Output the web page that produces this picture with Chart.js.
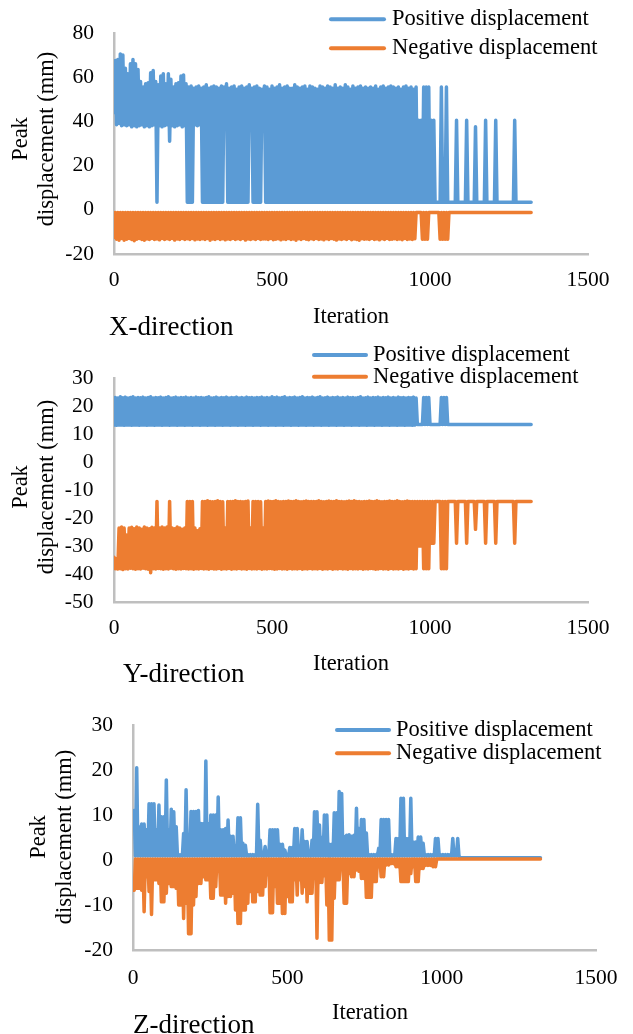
<!DOCTYPE html>
<html><head><meta charset="utf-8">
<script src="https://cdn.jsdelivr.net/npm/chart.js@4.4.1/dist/chart.umd.min.js"></script>
<style>
html,body{margin:0;padding:0;background:#fff;}
#wrap{position:relative;width:633px;height:1034px;overflow:hidden;background:#fff;}
canvas{position:absolute;left:0;}
</style></head><body>
<div id="wrap">
<canvas id="cx" width="633" height="345" style="top:0px"></canvas>
<canvas id="cy" width="633" height="345" style="top:345px"></canvas>
<canvas id="cz" width="633" height="344" style="top:690px"></canvas>
</div>
<script>
// ---------- shared labels / ticks ----------
const seriesLabels = ['Positive displacement', 'Negative displacement'];
const panelCaptions = ['X-direction', 'Y-direction', 'Z-direction'];
const yTitleLines = ['Peak', 'displacement (mm)'];
const xTitle = 'Iteration';
const iterationTicks = [0, 500, 1000, 1500];
const xDirTicks = [-20, 0, 20, 40, 60, 80];
const yDirTicks = [-50, -40, -30, -20, -10, 0, 10, 20, 30];
const zDirTicks = [-20, -10, 0, 10, 20, 30];

// ---------- X & Y panels: iteration samples ----------
const iterXY = [
0,4,8,12,16,20,24,28,32,36,40,44,48,52,56,60,64,68,72,76,
80,84,88,92,96,100,104,108,112,116,120,124,128,132,136,140,144,148,152,156,
160,164,168,172,176,180,184,188,192,196,200,204,208,212,216,220,224,228,232,236,
240,244,248,252,256,260,264,268,272,276,280,284,288,292,296,300,304,308,312,316,
320,324,328,332,336,340,344,348,352,356,360,364,368,372,376,380,384,388,392,396,
400,404,408,412,416,420,424,428,432,436,440,444,448,452,456,460,464,468,472,476,
480,484,488,492,496,500,504,508,512,516,520,524,528,532,536,540,544,548,552,556,
560,564,568,572,576,580,584,588,592,596,600,604,608,612,616,620,624,628,632,636,
640,644,648,652,656,660,664,668,672,676,680,684,688,692,696,700,704,708,712,716,
720,724,728,732,736,740,744,748,752,756,760,764,768,772,776,780,784,788,792,796,
800,804,808,812,816,820,824,828,832,836,840,844,848,852,856,860,864,868,872,876,
880,884,888,892,896,900,904,908,912,916,920,924,928,932,936,940,944,948,952,956,
960,964,968,972,976,980,984,988,992,996,1000,1004,1008,1012,1016,1020,1024,1028,1032,1036,
1040,1044,1048,1052,1056,1060,1064,1068,1072,1076,1080,1084,1088,1092,1096,1100,1104,1108,1112,1116,
1120,1124,1128,1132,1136,1140,1144,1148,1152,1156,1160,1164,1168,1172,1176,1180,1184,1188,1192,1196,
1200,1204,1208,1212,1216,1220,1224,1228,1232,1236,1240,1244,1248,1252,1256,1260,1264,1268,1272,1276,
1280,1284,1288,1292,1296,1300,1304,1308,1312,1316,1320];

const xPositive = [
44,67.5,38.5,68,39,70.5,38,70,38.5,64,38,61.5,38.5,66,37.5,68,38,66,37.5,63.5,
38,58,38.5,55.5,37.5,57,38,57.5,37.5,62,38,63,38.5,58,3.4,56.5,38,60.5,37.5,61.5,
38,57,38.5,61.5,31,59,38,55.5,37.5,57,38,57.5,38.5,60.5,37.5,61,38,57,3.4,55.5,
3.4,56,3.4,55,38.5,55.5,38,56,38.5,55,3.4,55.5,3.4,56.5,3.4,55,3.4,55.5,3.4,56,
3.4,55.5,3.4,55,3.4,56,3.4,55.5,38.5,57,3.4,55,3.4,55.5,3.4,56,3.4,54.5,3.4,55.5,
3.4,56,3.4,55,3.4,55.5,3.4,56.5,38.5,55,3.4,55.5,3.4,56,3.4,55,3.4,54.5,38.5,56,
3.4,55.5,3.4,54.5,3.4,56,3.4,55,3.4,55.5,3.4,56.5,3.4,55,3.4,55.5,3.4,56,3.4,55,
3.4,55,3.4,56.5,3.4,55.5,3.4,55,3.4,55.5,3.4,56,3.4,54.5,3.4,56,3.4,55.5,3.4,55,
3.4,54.5,3.4,56,3.4,55.5,3.4,55,3.4,56,3.4,55.5,3.4,55,3.4,56.5,3.4,55,3.4,55.5,
3.4,55,3.4,56.5,3.4,55.5,3.4,54.5,3.4,56,3.4,55,3.4,55.5,3.4,56,3.4,55,3.4,55.5,
3.4,55,3.4,55.5,3.4,55,3.4,56,3.4,54.5,3.4,55.5,3.4,56,3.4,55,3.4,55.5,3.4,56,
3.4,55.5,3.4,55,3.4,55.5,3.4,54.5,3.4,55.5,3.4,56,3.4,55,3.4,55.5,3.4,54.5,3.4,55.5,
3.4,40.5,3.4,40.5,3.4,55.5,3.4,55.5,3.4,55.5,3.4,40.5,3.4,40.5,3.4,3.4,3.4,3.4,3.4,55.5,
3.4,3.4,3.4,55.5,3.4,3.4,3.4,3.4,3.4,3.4,3.4,40.5,3.4,3.4,3.4,3.4,3.4,3.4,3.4,40.5,
3.4,3.4,3.4,3.4,3.4,3.4,37.5,3.4,3.4,3.4,3.4,3.4,3.4,3.4,40.5,3.4,3.4,3.4,3.4,3.4,
3.4,3.4,40.5,3.4,3.4,3.4,3.4,3.4,3.4,3.4,3.4,3.4,3.4,3.4,3.4,3.4,3.4,40.5,3.4,3.4,
3.4,3.4,3.4,3.4,3.4,3.4,3.4,3.4,3.4,3.4,3.4];

const xNegative = [
-12.5,-1.2,-13.3,-1.2,-13.8,-1.2,-13,-1.2,-13.8,-1.2,-13.3,-1.2,-13,-1.2,-13.4,-1.2,-14,-1.2,-13.3,-1.2,
-13,-1.2,-13.4,-1.2,-13.8,-1.2,-13.2,-1.2,-13.4,-1.2,-13,-1.2,-13.4,-1.2,-13.2,-1.2,-13.6,-1.2,-13,-1.2,
-13.4,-1.2,-13.1,-1.2,-13.4,-1.2,-13,-1.2,-13.7,-1.2,-13.2,-1.2,-13.4,-1.2,-13,-1.2,-13.4,-1.2,-13.1,-1.2,
-13.4,-1.2,-13,-1.2,-13.6,-1.2,-13.2,-1.2,-13.4,-1.2,-13.1,-1.2,-13.4,-1.2,-13,-1.2,-13.8,-1.2,-13.2,-1.2,
-13.4,-1.2,-13,-1.2,-13.4,-1.2,-13.1,-1.2,-13.6,-1.2,-13.2,-1.2,-13.4,-1.2,-13,-1.2,-13.4,-1.2,-13.1,-1.2,
-13.4,-1.2,-13,-1.2,-13.7,-1.2,-13.2,-1.2,-13.4,-1.2,-13.1,-1.2,-13.4,-1.2,-13,-1.2,-13.4,-1.2,-13.2,-1.2,
-13.2,-1.2,-13.4,-1.2,-13,-1.2,-13.5,-1.2,-13.3,-1.2,-13.1,-1.2,-13.6,-1.2,-13.2,-1.2,-13.4,-1.2,-13,-1.2,
-13.4,-1.2,-13.2,-1.2,-13.8,-1.2,-13.1,-1.2,-13.4,-1.2,-13,-1.2,-13.3,-1.2,-13.5,-1.2,-13.1,-1.2,-13.4,-1.2,
-13,-1.2,-13.4,-1.2,-13.2,-1.2,-13.6,-1.2,-13.1,-1.2,-13.4,-1.2,-13,-1.2,-13.3,-1.2,-13.7,-1.2,-13.2,-1.2,
-13.4,-1.2,-13.1,-1.2,-13.4,-1.2,-13,-1.2,-13.5,-1.2,-13.2,-1.2,-13.4,-1.2,-13.8,-1.2,-13.1,-1.2,-13.3,-1.2,
-13.2,-1.2,-13.4,-1.2,-13,-1.2,-13.4,-1.2,-13.2,-1.2,-13.6,-1.2,-13.1,-1.2,-13.4,-1.2,-13,-1.2,-13.4,-1.2,
-13.3,-1.2,-13.1,-1.2,-13.4,-1.2,-13.2,-1.2,-13.5,-1.2,-13,-1.2,-13.4,-1.2,-13.2,-1.2,-13.4,-1.2,-13.1,-1.2,
-1.2,-1.2,-1.2,-1.2,-13.3,-1.2,-13.3,-1.2,-13.3,-1.2,-1.2,-1.2,-1.2,-1.2,-1.2,-1.2,-1.2,-1.2,-13.3,-1.2,
-13.3,-1.2,-13.3,-1.2,-13.3,-1.2,-1.2,-1.2,-1.2,-1.2,-1.2,-1.2,-1.2,-1.2,-1.2,-1.2,-1.2,-1.2,-1.2,-1.2,
-1.2,-1.2,-1.2,-1.2,-1.2,-1.2,-1.2,-1.2,-1.2,-1.2,-1.2,-1.2,-1.2,-1.2,-1.2,-1.2,-1.2,-1.2,-1.2,-1.2,
-1.2,-1.2,-1.2,-1.2,-1.2,-1.2,-1.2,-1.2,-1.2,-1.2,-1.2,-1.2,-1.2,-1.2,-1.2,-1.2,-1.2,-1.2,-1.2,-1.2,
-1.2,-1.2,-1.2,-1.2,-1.2,-1.2,-1.2,-1.2,-1.2,-1.2,-1.2];

const yPositive = [
13.3,23.2,13.2,23,13.3,23.4,13.3,23.1,13.2,23.3,13.3,23,13.3,23.2,13.2,23.4,13.3,23,13.3,23.2,
13.2,23.1,13.3,23.3,13.3,23,13.2,23.2,13.3,23.4,13.3,23,13.2,23.2,13.3,23.1,13.3,23.3,13.2,23,
13.3,23.2,13.3,23.4,13.2,23,13.3,23.1,13.3,23.3,13.2,23,13.3,23.2,13.3,23.1,13.2,23.3,13.3,23,
13.3,23.2,13.2,23,13.3,23.3,13.3,23.1,13.2,23.2,13.3,23,13.3,23.2,13.2,23.4,13.3,23,13.3,23.1,
13.2,23.3,13.3,23,13.3,23.2,13.2,23.1,13.3,23.3,13.3,23,13.2,23.2,13.3,23.1,13.3,23.3,13.2,23,
13.3,23.2,13.3,23,13.2,23.3,13.3,23.1,13.3,23.2,13.2,23,13.3,23.2,13.3,23.1,13.2,23.3,13.3,23,
13.3,23.2,13.2,23,13.3,23.4,13.3,23.1,13.2,23.3,13.3,23,13.3,23.2,13.2,23.4,13.3,23,13.3,23.2,
13.2,23.1,13.3,23.3,13.3,23,13.2,23.2,13.3,23.4,13.3,23,13.2,23.2,13.3,23.1,13.3,23.3,13.2,23,
13.3,23.2,13.3,23.4,13.2,23,13.3,23.1,13.3,23.3,13.2,23,13.3,23.2,13.3,23.1,13.2,23.3,13.3,23,
13.3,23.2,13.2,23,13.3,23.3,13.3,23.1,13.2,23.2,13.3,23,13.3,23.2,13.2,23.4,13.3,23,13.3,23.1,
13.2,23.3,13.3,23,13.3,23.2,13.2,23.1,13.3,23.3,13.3,23,13.2,23.2,13.3,23.1,13.3,23.3,13.2,23,
13.3,23.2,13.3,23,13.2,23.3,13.3,23.1,13.3,23.2,13.2,23,13.3,23.2,13.3,23.1,13.2,23.3,13.3,23,
13.5,13.5,13.5,13.5,13.5,23.2,13.5,23.2,13.5,23.2,13.5,13.5,13.5,13.5,13.5,13.5,13.5,13.5,13.5,23.2,
13.5,23.2,13.5,23.2,13.5,13.5,13.5,13.5,13.5,13.5,13.5,13.5,13.5,13.5,13.5,13.5,13.5,13.5,13.5,13.5,
13.5,13.5,13.5,13.5,13.5,13.5,13.5,13.5,13.5,13.5,13.5,13.5,13.5,13.5,13.5,13.5,13.5,13.5,13.5,13.5,
13.5,13.5,13.5,13.5,13.5,13.5,13.5,13.5,13.5,13.5,13.5,13.5,13.5,13.5,13.5,13.5,13.5,13.5,13.5,13.5,
13.5,13.5,13.5,13.5,13.5,13.5,13.5,13.5,13.5,13.5,13.5];

const yNegative = [
-34,-38.1,-34.5,-38.2,-23.5,-38.1,-23.2,-38.4,-23.5,-38.1,-26,-38.2,-23.5,-37.9,-23.3,-38.1,-23.8,-38.3,-23.2,-38.1,
-23.5,-38.2,-24,-37.9,-23.2,-38.1,-23.5,-38.3,-23.8,-39.5,-23.3,-38.1,-23.5,-38.2,-14,-38,-23.5,-38.1,-23.2,-38.3,
-23.5,-38.1,-23.2,-38.2,-14,-37.9,-23.5,-38.1,-23.8,-38.3,-23.2,-38.1,-23.5,-38.2,-24,-38,-23.5,-38.1,-14,-38.2,
-14,-38.1,-14,-38.3,-23.5,-38.1,-24.5,-38.2,-23.8,-38,-14,-38.2,-14,-38.1,-13.8,-38.3,-14,-38,-14.1,-38.2,
-14,-38.2,-13.8,-38,-14,-38.3,-14.1,-38.1,-23.5,-38.2,-14,-38,-14,-38.3,-14,-38.1,-13.8,-38.2,-14,-38,
-14,-38.2,-14.1,-38.1,-14,-38.3,-13.9,-38,-23.5,-38.2,-14,-38.1,-14,-38.2,-14,-38,-14.1,-38.3,-23.5,-38.1,
-14,-38.2,-13.9,-38,-14,-38.1,-14,-38.3,-13.8,-38.2,-14,-38,-14.1,-38.2,-14,-38.1,-14,-38.3,-13.9,-38,
-14,-38.2,-14,-38.1,-13.8,-38.2,-14,-38,-14.1,-38.3,-14,-38.1,-13.9,-38.2,-14,-38,-14,-38.2,-14,-38.1,
-14,-38.2,-13.8,-38,-14,-38.3,-14.1,-38.1,-14,-38.2,-13.9,-38,-14,-38.3,-14,-38.1,-13.8,-38.2,-14,-38,
-14,-38.2,-14.1,-38.1,-14,-38.3,-13.9,-38,-14,-38.2,-13.8,-38.1,-14,-38.2,-14,-38,-14.1,-38.3,-14,-38.1,
-14,-38.2,-13.9,-38,-14,-38.1,-14,-38.3,-13.8,-38.2,-14,-38,-14.1,-38.2,-14,-38.1,-14,-38.3,-13.9,-38,
-14,-38.2,-14,-38.1,-13.8,-38.2,-14,-38,-14.1,-38.3,-14,-38.1,-13.9,-38.2,-14,-38,-14,-38.2,-14,-38.1,
-14,-30,-14,-30,-14,-38.1,-14,-38.1,-14,-38.1,-14,-29,-14,-29,-14,-14,-14,-14,-14,-38.1,
-14,-38.1,-14,-38.1,-14,-14,-14,-14,-14,-14,-14,-29,-14,-14,-14,-14,-14,-14,-14,-29,
-14,-14,-14,-14,-14,-14,-24,-14,-14,-14,-14,-14,-14,-14,-29,-14,-14,-14,-14,-14,
-14,-14,-29,-14,-14,-14,-14,-14,-14,-14,-14,-14,-14,-14,-14,-14,-14,-29,-14,-14,
-14,-14,-14,-14,-14,-14,-14,-14,-14,-14,-14];

// ---------- Z panel: iteration samples ----------
const iterZ = [
0,4,8,12,16,20,24,28,32,36,40,44,48,52,56,60,64,68,72,76,
80,84,88,92,96,100,104,108,112,116,120,124,128,132,136,140,144,148,152,156,
160,164,168,172,176,180,184,188,192,196,200,204,208,212,216,220,224,228,232,236,
240,244,248,252,256,260,264,268,272,276,280,284,288,292,296,300,304,308,312,316,
320,324,328,332,336,340,344,348,352,356,360,364,368,372,376,380,384,388,392,396,
400,404,408,412,416,420,424,428,432,436,440,444,448,452,456,460,464,468,472,476,
480,484,488,492,496,500,504,508,512,516,520,524,528,532,536,540,544,548,552,556,
560,564,568,572,576,580,584,588,592,596,600,604,608,612,616,620,624,628,632,636,
640,644,648,652,656,660,664,668,672,676,680,684,688,692,696,700,704,708,712,716,
720,724,728,732,736,740,744,748,752,756,760,764,768,772,776,780,784,788,792,796,
800,804,808,812,816,820,824,828,832,836,840,844,848,852,856,860,864,868,872,876,
880,884,888,892,896,900,904,908,912,916,920,924,928,932,936,940,944,948,952,956,
960,964,968,972,976,980,984,988,992,996,1000,1004,1008,1012,1016,1020,1024,1028,1032,1036,
1040,1044,1048,1052,1056,1060,1064,1320];

const zPositive = [8.5,
11,.9,20.5,.9,7.4,.9,8,.9,8,.9,6.7,.9,12.5,.9,12.5,.9,12.5,.9,6.7,.9,
12.2,.9,9.6,.9,9.6,.9,17.8,.9,6.7,.9,11.3,.9,10.7,.9,7.4,.9,1.2,.9,1.2,.9,
5.9,.9,15.6,.9,5.2,.9,10.8,.9,10.8,.9,10.8,.9,11,.9,8.1,.9,8.1,.9,22,.9,
8.1,.9,10,.9,10,.9,10,.9,14,.9,6.7,.9,6.7,.9,7,.9,8.9,.9,5.3,.9,
5.3,.9,3,.9,9.4,.9,9.4,.9,3.7,.9,3.3,.9,1.2,.9,1.2,.9,1.2,.9,1.2,.9,
12.4,.9,4.4,.9,1.2,.9,3,.9,1.2,.9,6.7,.9,6.7,.9,6.7,.9,6.7,.9,3.5,.9,
3.5,.9,2.2,.9,1.2,.9,2.8,.9,2.8,.9,7,.9,7,.9,2.6,.9,6.7,.9,4.1,.9,
4.1,.9,1.2,.9,4.4,.9,10.7,.9,10.7,.9,7.8,.9,5,.9,10,.9,10,.9,3.5,.9,
3.5,.9,10.5,.9,10.5,.9,15.2,.9,14.8,.9,5.2,.9,5.5,.9,5.6,.9,5.3,.9,5.5,.9,
11.5,.9,7,.9,9,.9,9,.9,6,.9,1.2,.9,1.2,.9,1.2,.9,1.2,.9,2.6,.9,
9,.9,9,.9,9,.9,9,.9,1.2,.9,1.2,.9,4.8,.9,4.8,.9,13.7,.9,13.7,.9,
4.8,.9,4.8,.9,13.7,.9,4,.9,4,.9,5.1,.9,5.1,.9,3.7,.9,1.2,.9,1.2,.9,
1.2,.9,1.2,.9,4.8,.9,4.8,.9,1.2,.9,1.2,.9,1.2,.9,1.2,.9,1.2,.9,4.8,.9,
1.2,.9,4.8,.9,.5,.5,
.5];

const zNegative = [-6.7,
-6.7,.2,-6.3,.2,-6.3,.2,-6.7,.2,-11.5,.2,-3.7,.2,-7,.2,-12.1,.2,-4.4,.2,-4.4,.2,
-5.2,.2,-9.3,.2,-9.3,.2,-7.4,.2,-5.2,.2,-5.9,.2,-5.9,.2,-6.3,.2,-10,.2,-10,.2,
-13,.2,-9.6,.2,-16.4,.2,-16.4,.2,-10,.2,-8.1,.2,-5.2,.2,-5.2,.2,-3.7,.2,-4.4,.2,
-4.4,.2,-8.5,.2,-8.5,.2,-5.9,.2,-2.2,.2,-7.8,.2,-7.8,.2,-9.6,.2,-8.1,.2,-8.1,.2,
-7.4,.2,-11.1,.2,-14.1,.2,-14.1,.2,-11.1,.2,-11.1,.2,-9.6,.2,-7,.2,-9.3,.2,-9.3,.2,
-7,.2,-7.8,.2,-7.8,.2,-5.9,.2,-3.3,.2,-11.7,.2,-11.7,.2,-5.9,.2,-9.6,.2,-9.6,.2,
-11.9,.2,-11.9,.2,-8.1,.2,-9.3,.2,-9.3,.2,-4.4,.2,-7.8,.2,-4.4,.2,-7.4,.2,-5.9,.2,
-9.3,.2,-7.4,.2,-7.4,.2,-3,.2,-17.4,.2,-5,.2,-5,.2,-3.5,.2,-10,.2,-17.8,.2,
-17.8,.2,-8.5,.2,-4.4,.2,-4.4,.2,-2,.2,-9.6,.2,-9.6,.2,-3,.2,-3.7,.2,-3.7,.2,
-2.2,.2,-2.5,.2,-4.1,.2,-4.1,.2,-8.3,.2,-8.3,.2,-8.3,.2,-4.8,.2,-4.8,.2,-1.5,.2,
-3.7,.2,-3.7,.2,-1.1,.2,-1.1,.2,-.8,.2,-.8,.2,-1.5,.2,-1.5,.2,-4.8,.2,-4.8,.2,
-4.8,.2,-4.8,.2,-3,.2,-1.5,.2,-4.8,.2,-4.8,.2,-1.9,.2,-1.9,.2,-1.2,.2,-1.2,.2,
-1.2,.2,-1.5,.2,-1.5,.2,.2,.2,.2,.2,.2,.2,.2,.2,.2,.2,.2,.2,.2,.2,
.2,.2,.2,.2,.2,.2,
.2];

// ---------- rendering ----------
const SERIF = "'Liberation Serif', 'Times New Roman', Times, serif";
const BLUE = '#5B9BD5';
const ORANGE = '#ED7D31';

const panels = {
  cx: { top: 27, right: 45, yW: 114, xH: 91, ticks: xDirTicks, xPad: 13.5, yPad: 20,
        pts: [iterXY, xPositive, xNegative], lw: 3.5, caption: panelCaptions[0],
        tTitle: [27, 53], tCenter: 139, xt: [351, 322.5], cap: [109, 334.5],
        leg: { x0: 331, x1: 384, tx: 392, ys: [19.3, 48.3] } },
  cy: { top: 30, right: 45, yW: 114, xH: 88, ticks: yDirTicks, xPad: 13, yPad: 20.5,
        pts: [iterXY, yPositive, yNegative], lw: 3.5, caption: panelCaptions[1],
        tTitle: [27, 53], tCenter: 142, xt: [351, 325], cap: [123, 336.5],
        leg: { x0: 314, x1: 366, tx: 373, ys: [10, 31.7] } },
  cz: { top: 35, right: 26, yW: 133, xH: 84, ticks: zDirTicks, xPad: 15.5, yPad: 20,
        pts: [iterZ, zPositive, zNegative], lw: 3.5, caption: panelCaptions[2],
        tTitle: [45, 71], tCenter: 147, xt: [370, 329.3], cap: [133, 342.5],
        leg: { x0: 337, x1: 389, tx: 396, ys: [40, 63.3] } }
};

const decor = {
  id: 'decor',
  afterDraw(chart) {
    const p = panels[chart.canvas.id];
    const ctx = chart.ctx;
    ctx.save();
    ctx.fillStyle = '#000';
    ctx.font = '22.5px ' + SERIF;
    ctx.textAlign = 'center';
    ctx.textBaseline = 'alphabetic';
    yTitleLines.forEach((t, i) => {
      ctx.save();
      ctx.translate(p.tTitle[i], p.tCenter);
      ctx.rotate(-Math.PI / 2);
      ctx.fillText(t, 0, 0);
      ctx.restore();
    });
    ctx.fillText(xTitle, p.xt[0], p.xt[1]);
    ctx.font = '27px ' + SERIF;
    ctx.textAlign = 'left';
    ctx.fillText(p.caption, p.cap[0], p.cap[1]);
    ctx.font = '22.5px ' + SERIF;
    ctx.textBaseline = 'middle';
    chart.data.datasets.forEach((ds, i) => {
      const y = p.leg.ys[i];
      ctx.strokeStyle = ds.borderColor;
      ctx.lineWidth = 4;
      ctx.lineCap = 'round';
      ctx.beginPath();
      ctx.moveTo(p.leg.x0, y);
      ctx.lineTo(p.leg.x1, y);
      ctx.stroke();
      ctx.fillText(ds.label, p.leg.tx, y);
    });
    ctx.restore();
  }
};

function build(id) {
  const p = panels[id];
  const [it, pos, neg] = p.pts;
  const toXY = (vals) => it.map((x, i) => ({ x: x, y: vals[i] }));
  const tickFont = { family: SERIF, size: 21.5 };
  const t = p.ticks;
  const lineStyle = { borderWidth: p.lw, tension: 0, fill: false, pointRadius: 0, pointHoverRadius: 0,
                      borderJoinStyle: 'round', borderCapStyle: 'round' };
  new Chart(document.getElementById(id), {
    type: 'line',
    data: {
      datasets: [
        Object.assign({ label: seriesLabels[0], data: toXY(pos), borderColor: BLUE, backgroundColor: BLUE, order: 1 }, lineStyle),
        Object.assign({ label: seriesLabels[1], data: toXY(neg), borderColor: ORANGE, backgroundColor: ORANGE, order: 0 }, lineStyle)
      ]
    },
    options: {
      responsive: false,
      animation: false,
      devicePixelRatio: 1,
      events: [],
      layout: { padding: { left: 0, top: p.top, right: p.right, bottom: 0 } },
      plugins: { legend: { display: false }, tooltip: { enabled: false }, title: { display: false } },
      scales: {
        x: {
          type: 'linear', min: iterationTicks[0], max: iterationTicks[iterationTicks.length - 1],
          ticks: { stepSize: iterationTicks[1] - iterationTicks[0], padding: p.xPad, font: tickFont, color: '#000',
                   maxRotation: 0, autoSkip: false, callback: (v) => String(v) },
          grid: { display: false, drawTicks: false },
          border: { display: true, color: '#bfbfbf', width: 2.5 },
          afterFit(s) { s.height = p.xH; }
        },
        y: {
          type: 'linear', min: t[0], max: t[t.length - 1],
          ticks: { stepSize: t[1] - t[0], padding: p.yPad, font: tickFont, color: '#000', autoSkip: false,
                   callback: (v) => String(v) },
          grid: { display: false, drawTicks: false },
          border: { display: true, color: '#bfbfbf', width: 2.5 },
          afterFit(s) { s.width = p.yW; }
        }
      }
    },
    plugins: [decor]
  });
}
['cx', 'cy', 'cz'].forEach(build);
</script>
</body></html>
